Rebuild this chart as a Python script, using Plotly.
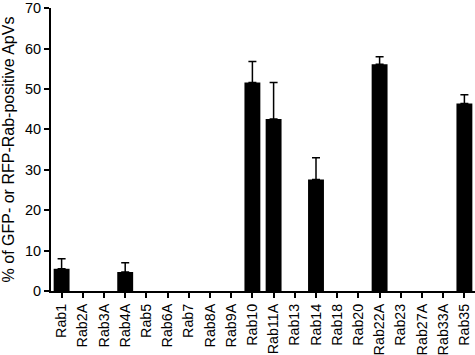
import plotly.graph_objects as go

categories = ["Rab1", "Rab2A", "Rab3A", "Rab4A", "Rab5", "Rab6A", "Rab7", "Rab8A", "Rab9A",
              "Rab10", "Rab11A", "Rab13", "Rab14", "Rab18", "Rab20", "Rab22A", "Rab23",
              "Rab27A", "Rab33A", "Rab35"]
values = [5.5, 0, 0, 4.7, 0, 0, 0, 0, 0, 51.6, 42.6, 0, 27.6, 0, 0, 56.1, 0, 0, 0, 46.4]
errors = [2.5, 0, 0, 2.3, 0, 0, 0, 0, 0, 5.2, 9.0, 0, 5.4, 0, 0, 1.9, 0, 0, 0, 2.2]
y_ticks = [0, 10, 20, 30, 40, 50, 60, 70]

idx = [i for i, e in enumerate(errors) if e > 0]

fig = go.Figure()
fig.add_trace(go.Bar(
    x=categories, y=values,
    marker=dict(color="black", line=dict(color="black", width=0)),
    width=0.75,
))
fig.add_trace(go.Scatter(
    x=[categories[i] for i in idx], y=[values[i] for i in idx],
    mode="markers", marker=dict(size=0.1, opacity=0, color="black"),
    error_y=dict(type="data", array=[errors[i] for i in idx],
                 arrayminus=[0] * len(idx), symmetric=False,
                 color="black", thickness=1.5, width=4),
    hoverinfo="skip",
))

font_family = "Liberation Sans, Arial, sans-serif"
fig.update_layout(
    width=475, height=355,
    margin=dict(l=51, r=0, t=8, b=64),
    paper_bgcolor="white", plot_bgcolor="white",
    showlegend=False,
    font=dict(family=font_family, color="black"),
)
fig.update_yaxes(
    range=[0, 70.05], tickvals=y_ticks, ticktext=[str(t) for t in y_ticks],
    showgrid=False, zeroline=False, automargin=False,
    showline=True, linecolor="black", linewidth=2,
    ticks="outside", ticklen=5, tickwidth=2, tickcolor="black",
    tickfont=dict(size=14.5, family=font_family, color="black"),
    title=dict(text="% of GFP- or RFP-Rab-positive ApVs",
               font=dict(size=16, family=font_family, color="black"), standoff=6),
)
fig.update_xaxes(
    range=[-0.5, 19.5],
    showgrid=False, zeroline=False, automargin=False,
    showline=True, linecolor="black", linewidth=2,
    ticks="outside", ticklen=5, tickwidth=2, tickcolor="black",
    tickangle=-90,
    tickfont=dict(size=14.3, family=font_family, color="black"),
)
fig.write_html("out.html")
